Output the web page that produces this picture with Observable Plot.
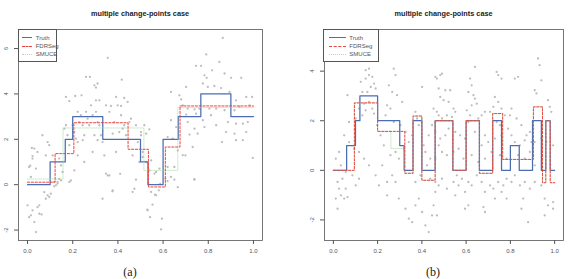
<!DOCTYPE html>
<html><head><meta charset="utf-8">
<script src="https://cdn.jsdelivr.net/npm/d3@7"></script>
<script src="https://cdn.jsdelivr.net/npm/@observablehq/plot@0.6"></script>
<style>
body{margin:0;background:#fff;}
#wrap{position:relative;width:570px;height:279px;font-family:"Liberation Sans",Arial,sans-serif;overflow:hidden;}
.title{font-weight:bold;font-size:7.3px;color:#222;text-align:center;line-height:1;}
.cap{font-family:"Liberation Serif","DejaVu Serif",serif;font-size:12px;color:#222;line-height:12px;height:12px;}
.lgbox{position:absolute;background:#fff;border:0.8px solid #555;box-sizing:border-box;}
.lgtext{position:absolute;font-size:6px;color:#555;line-height:1;white-space:nowrap;}
.lgline{position:absolute;height:0;}
</style></head><body>
<div id="wrap"></div>
<script>
const titleText = "multiple change-points case";
const legendLabels = ["Truth", "FDRSeg", "SMUCE"];
const captions = ["(a)", "(b)"];
const xTicks = [0, 0.2, 0.4, 0.6, 0.8, 1.0];
const yTicksA = [-2, 0, 2, 4, 6];
const yTicksB = [-2, 0, 2, 4];

// panel (a) step functions: breakpoints and segment values
const truthAx = [0, 0.1, 0.167, 0.2, 0.333, 0.5, 0.533, 0.6, 0.667, 0.767, 0.9, 1];
const truthAy = [0, 1, 2, 3, 2, 1, 0, 2, 3, 4, 3];
const fdrAx = [0, 0.122, 0.205, 0.445, 0.535, 0.61, 0.675, 1];
const fdrAy = [0.11, 1.37, 2.73, 1.56, -0.1, 1.66, 3.47];
const smuceAx = [0, 0.157, 0.515, 0.665, 1];
const smuceAy = [0.25, 2.5, 0.63, 3.4];

// panel (b) step functions
const truthBx = [0, 0.06, 0.1, 0.12, 0.2, 0.3, 0.32, 0.36, 0.4, 0.46, 0.54, 0.6, 0.66, 0.72, 0.76, 0.8, 0.84, 0.9, 0.94, 0.96, 0.98, 1];
const truthBy = [0, 1, 2, 3, 2, 1, 0, 2, 0, 2, 0, 2, 0, 2, 0, 1, 0, 2, 0, 2, 0];
const fdrBx = [0, 0.095, 0.2, 0.323, 0.36, 0.4, 0.46, 0.54, 0.6, 0.66, 0.72, 0.765, 0.904, 0.945, 0.96, 0.98, 1];
const fdrBy = [0, 2.72, 1.57, -0.12, 2.19, -0.4, 2, 0, 2, -0.12, 2.29, 0.44, 2.56, -0.5, 2, -0.5];
const smuceBx = [0, 0.095, 0.2, 0.26, 0.323, 0.36, 0.4, 0.46, 0.54, 0.6, 0.66, 0.72, 0.765, 0.904, 0.945, 0.96, 0.98, 1];
const smuceBy = [0, 2.72, 1.57, 0.88, -0.12, 2.19, -0.4, 2, 0, 2, -0.12, 2.29, 0.44, 2.56, -0.5, 2, -0.5];

// observations, panel (a)
const pointsA = [
[0,-0.91],[0.007,-1.43],[0.015,-1.35],[0.022,-1.13],[0.030,-1.65],[0.037,-2.09],[0.044,-0.99],[0.052,-0.91],[0.052,-1.28],[0.081,-0.62],[0.089,-0.47],[0.096,-0.54],[0.103,-0.40],
[0.007,0.78],[0.022,1.15],[0.030,1.59],[0.044,1.44],[0.037,0.71],[0.015,0.34],[0.066,2.18],[0.089,1.88],[0.096,1.74],[0.081,1.29],[0.111,1.29],[0.118,0.12],[0.126,-0.03],[0.133,0.12],[0.140,0.26],[0.140,1.15],[0.148,0.85],[0.155,0.56],[0.163,2.47],[0.170,2.62],[0.177,2.18],[0.185,1.74],[0.199,2.62],[0.207,2.32],[0.214,2.03],[0.222,1.88],[0.207,0.63],[0.170,3.87],[0.185,3.68],[0.211,3.91],[0.222,3.21],[0.229,2.76],[0.236,3.06],[0.239,3.94],[0.244,2.62],[0.251,2.18],[0.251,1.00],[0.259,4.75],[0.276,4.75],[0.259,3.21],[0.266,2.91],[0.273,2.62],[0.281,3.50],[0.288,3.06],[0.296,4.38],[0.303,4.28],[0.310,4.46],[0.303,3.72],[0.318,3.72],[0.303,3.21],[0.310,2.76],[0.318,2.62],[0.325,2.18],[0.332,1.88],[0.340,1.29],[0.347,3.50],[0.355,5.59],[0.362,3.21],[0.369,3.47],[0.377,2.25],[0.384,2.76],[0.392,3.87],[0.392,1.44],[0.399,3.50],[0.406,2.32],[0.414,3.47],[0.414,3.06],[0.417,4.63],[0.421,2.47],[0.428,3.82],[0.428,2.62],[0.436,2.18],[0.443,3.65],[0.451,2.76],[0.458,2.91],[0.465,1.29],[0.465,-0.32],[0.473,-0.18],[0.480,2.62],[0.488,1.88],[0.495,1.00],[0.502,2.18],[0.510,1.44],[0.517,2.62],[0.362,0.41],[0.347,0.49],[0.377,-0.25],[0.332,-0.62],[0.288,1.44],[0.296,2.18],[0.310,1.96],[0.244,1.96],[0.222,1.29],[0.185,0.12],
[0.864,6.47],[0.791,5.74],[0.746,5.24],[0.768,5.24],[0.817,5.04],[0.849,5.41],[0.783,4.82],[0.793,4.71],[0.872,4.90],[0.901,4.71],[0.946,4.71],[0.702,4.31],[0.776,4.46],[0.798,4.31],[0.827,4.35],[0.857,4.26],[0.635,4.09],[0.672,3.94],[0.680,3.76],[0.894,4.09],[0.923,3.72],[0.968,3.87],[0.994,3.87],[0.687,3.50],[0.709,3.35],[0.739,3.32],[0.761,3.35],[0.805,3.35],[0.835,3.35],[0.872,3.28],[0.916,3.28],[0.938,3.43],[0.983,3.50],[0.702,3.09],[0.746,3.13],[0.812,3.06],[0.709,2.76],[0.776,2.84],[0.835,2.62],[0.887,2.76],[0.923,2.69],[0.953,2.69],[0.975,2.76],[0.739,2.47],[0.783,2.54],[0.879,2.32],[0.968,2.32],[0.717,2.21],[0.753,2.25],[0.916,2.25],[0.620,2.10],[0.643,2.03],[0.861,1.88],[0.923,1.96],[0.953,1.96],[0.731,1.66],[0.665,1.51],[0.997,1.18],[0.699,1.29],[0.739,0.24],[0.539,0.63],[0.569,0.56],[0.584,0.71],[0.562,0.49],[0.547,-0.32],[0.532,-1.13],[0.542,-1.43],[0.595,-1.50],[0.591,-1.97],[0.569,-0.47],[0.581,-0.25],[0.587,0.04],[0.610,0.26],[0.620,0.78],[0.650,0.78],[0.525,2.25],[0.539,2.44],[0.502,2.32],[0.510,1.22],[0.547,1.07],[0.525,1.00],[0.635,2.84],[0.658,2.54],
[0.062,-1.31],[0.074,-0.33],[0.118,-0.07],[0.133,0.05],[0.148,0.19],[0.192,0.19],[0.012,0.84],[0.022,1.26],[0.019,1.62],[0.355,0.41],[0.376,-0.29],[0.41,0.48],[0.48,0.22],[0.53,-1.1],[0.553,-0.88],[0.564,-0.44],[0.62,0.16],[0.635,0.34],[0.65,0.22],[0.665,-0.11],[0.738,0.22],[0.687,1.3]
];

// observations, panel (b)
const pointsB = [
[0.176,5.34],[0.064,3.03],[0.124,3.57],[0.146,3.70],[0.161,3.84],[0.176,3.77],[0.184,3.50],[0.169,3.36],[0.191,3.30],[0.154,3.16],[0.131,3.16],[0.139,2.69],[0.161,2.76],[0.176,2.49],[0.146,2.42],[0.184,2.29],[0.116,2.49],[0.131,2.22],[0.101,2.09],[0.071,1.95],[0.161,4.10],[0.146,4.04],[0.273,4.10],[0.281,3.84],[0.251,3.43],[0.266,3.16],[0.288,3.03],[0.311,2.76],[0.243,2.62],[0.258,2.49],[0.236,2.22],[0.273,1.95],[0.303,1.82],[0.326,1.55],[0.356,1.41],[0.341,1.14],[0.318,0.87],[0.281,0.74],[0.296,0.47],[0.258,0.61],[0.228,1.01],[0.213,1.41],[0.198,1.82],[0.221,0.20],[0.266,-0.20],[0.243,-0.47],[0.281,-0.47],[0.296,-1.14],[0.243,-1.01],[0.206,-0.61],[0.191,-0.20],[0.161,0.20],[0.139,0.47],[0.116,0.74],[0.094,0.87],[0.071,1.14],[0.049,1.41],[0.026,0.74],[0.011,0.47],[0.034,0.20],[0.056,-0.07],[0.041,-0.34],[0.019,-0.47],[0.026,-0.74],[0.011,-1.14],[0.034,-1.01],[0.049,-1.14],[0.064,-1.08],[0.056,-0.74],[0.019,-1.55],[0.086,-0.20],[0.116,-0.34],[0.101,-0.61],[0.326,-1.55],[0.341,-1.95],[0.356,-2.09],[0.371,-1.41],[0.386,-1.14],[0.401,-1.68],[0.416,-2.22],[0.431,-2.49],[0.446,-1.82],[0.453,-1.41],[0.461,-0.87],[0.371,-0.47],[0.393,-0.20],[0.438,-0.34],[0.401,3.36],[0.371,2.36],[0.378,2.09],[0.386,1.82],[0.446,1.82],[0.461,1.55],[0.431,1.41],[0.408,1.01],[0.416,0.74],[0.438,0.47],[0.461,0.47],[0.423,0.20],[0.468,3.70],[0.476,2.22],[0.453,2.49],
[0.461,3.77],[0.483,3.84],[0.491,3.90],[0.640,4.17],[0.738,3.97],[0.745,3.84],[0.760,3.70],[0.835,3.77],[0.820,3.70],[0.925,4.51],[0.932,4.24],[0.940,3.63],[0.910,3.23],[0.918,3.10],[0.970,2.83],[0.978,2.56],[0.985,2.36],[0.476,3.30],[0.506,3.23],[0.528,3.23],[0.483,2.96],[0.498,2.83],[0.521,2.76],[0.543,2.49],[0.551,2.36],[0.468,2.36],[0.513,2.22],[0.536,2.15],[0.491,2.09],[0.618,3.70],[0.625,3.43],[0.610,3.16],[0.633,3.03],[0.640,2.89],[0.648,2.69],[0.625,2.62],[0.603,2.42],[0.618,2.22],[0.655,2.09],[0.670,2.22],[0.685,2.36],[0.610,1.95],[0.730,2.96],[0.745,2.76],[0.723,2.56],[0.708,2.36],[0.760,2.49],[0.775,2.22],[0.738,1.95],[0.753,1.82],[0.805,2.49],[0.798,2.22],[0.828,2.09],[0.850,1.82],[0.873,1.41],[0.888,1.55],[0.895,1.14],[0.865,1.21],[0.843,1.01],[0.820,1.14],[0.805,1.41],[0.790,1.68],[0.760,1.41],[0.730,1.28],[0.700,1.14],[0.685,1.41],[0.670,1.01],[0.640,1.55],[0.595,1.28],[0.573,1.41],[0.551,1.55],[0.521,1.68],[0.506,1.41],[0.483,1.28],[0.476,1.01],[0.491,0.74],[0.513,0.61],[0.543,0.74],[0.566,0.87],[0.588,0.47],[0.625,0.61],[0.655,0.34],[0.685,0.47],[0.715,0.74],[0.753,0.61],[0.783,0.47],[0.835,0.61],[0.865,0.47],[0.888,0.74],[0.910,1.14],[0.940,1.28],[0.963,1.14],[0.993,1.01],
[0.461,-0.47],[0.476,-0.61],[0.491,-0.34],[0.513,-0.74],[0.543,-0.47],[0.558,-0.20],[0.566,-0.61],[0.581,-0.34],[0.595,-0.87],[0.610,-0.47],[0.625,-0.61],[0.648,-0.20],[0.670,-0.47],[0.685,-0.87],[0.708,-0.61],[0.723,-0.74],[0.745,-0.47],[0.768,-0.61],[0.783,-0.34],[0.805,-0.47],[0.820,-0.20],[0.843,-0.61],[0.865,-0.47],[0.888,-0.74],[0.910,-0.47],[0.940,-0.61],[0.955,-1.14],[0.970,-1.41],[0.993,-1.28],[0.910,0.20],[0.468,-1.82],[0.551,-1.01],[0.595,-1.55],[0.610,-1.41],[0.678,-1.48],[0.685,-1.68],[0.858,-1.14],[0.850,-1.55],[0.880,-2.09],[0.955,-1.82],[0.993,-1.55],[0.730,-1.14],[0.760,-0.87],[0.783,-1.14]
];

const COL_TRUTH = "#4a6db3", COL_FDR = "#e8463e", COL_SMUCE = "#a3d9a3";
const lineStyles = [
  {stroke: COL_TRUTH, w: 1.25, dash: null, op: 1},
  {stroke: COL_FDR, w: 1, dash: "2.2,1.6", op: 1},
  {stroke: COL_SMUCE, w: 0.7, dash: "0.9,1", op: 0.85}
];

function stepTable(xs, ys) {
  return xs.map((x, i) => ({x, y: ys[Math.min(i, ys.length - 1)]}));
}

function panel(o) {
  return Plot.plot({
    width: 285, height: 262,
    marginTop: 29, marginBottom: 22, marginLeft: o.ml, marginRight: o.mr,
    x: {domain: [-0.04, 1.04]},
    y: {domain: o.yDomain},
    style: {fontFamily: "Liberation Sans, Arial, sans-serif", fontSize: "6px", background: "transparent", overflow: "visible"},
    marks: [
      Plot.dot(o.points, {x: d => d[0], y: d => d[1], r: 1.15, fill: "#bdbdbd", stroke: "none"}),
      Plot.line(stepTable(o.tx, o.ty), {x: "x", y: "y", curve: "step-after", stroke: lineStyles[0].stroke, strokeWidth: lineStyles[0].w}),
      Plot.line(stepTable(o.sx, o.sy), {x: "x", y: "y", curve: "step-after", stroke: lineStyles[2].stroke, strokeWidth: lineStyles[2].w, strokeDasharray: lineStyles[2].dash, strokeOpacity: lineStyles[2].op}),
      Plot.line(stepTable(o.fx, o.fy), {x: "x", y: "y", curve: "step-after", stroke: lineStyles[1].stroke, strokeWidth: lineStyles[1].w, strokeDasharray: lineStyles[1].dash}),
      Plot.frame({stroke: "#555", strokeWidth: 0.8}),
      Plot.axisX({ticks: xTicks, tickSize: 4, tickPadding: 4, tickFormat: d3.format(".1f"), color: "#555", fontSize: 6, label: null}),
      Plot.axisY({ticks: o.yTicks, tickSize: 4, text: null, color: "#555", label: null}),
      Plot.text(o.yTicks, {y: d => d, frameAnchor: "left", dx: -12, rotate: -90, text: d => String(d), textAnchor: "middle", fill: "#555", fontSize: 6})
    ]
  });
}

const wrap = document.getElementById("wrap");
function place(el, left, top) { el.style.position = "absolute"; el.style.left = left + "px"; el.style.top = top + "px"; wrap.appendChild(el); return el; }

const pa = panel({points: pointsA, tx: truthAx, ty: truthAy, fx: fdrAx, fy: fdrAy, sx: smuceAx, sy: smuceAy, yDomain: [-2.46, 6.84], yTicks: yTicksA, ml: 18, mr: 23});
const pb = panel({points: pointsB, tx: truthBx, ty: truthBy, fx: fdrBx, fy: fdrBy, sx: smuceBx, sy: smuceBy, yDomain: [-2.83, 5.68], yTicks: yTicksB, ml: 39, mr: 7});
place(pa, 0, 0);
place(pb, 285, 0);

function title(left, width) {
  const d = document.createElement("div");
  d.className = "title"; d.textContent = titleText; d.style.width = width + "px";
  place(d, left, 9.5);
}
title(18, 244);
title(324, 239);

// legend: box at (bx,by) size bw x bh; line sample from lx0 to lx1; text at tx (all page pixels)
function legend(bx, by, bw, bh, lx0, lx1, tx) {
  const box = document.createElement("div");
  box.className = "lgbox";
  box.style.width = bw + "px"; box.style.height = bh + "px";
  place(box, bx, by);
  legendLabels.forEach((lab, i) => {
    const y = by + 8.6 + i * 8.2;
    const st = lineStyles[i];
    const ln = document.createElement("div");
    ln.className = "lgline";
    ln.style.width = (lx1 - lx0) + "px";
    ln.style.borderTop = st.w + "px " + (st.dash ? (i === 1 ? "dashed " : "dotted ") : "solid ") + st.stroke;
    ln.style.opacity = st.op;
    place(ln, lx0, y - st.w / 2);
    const t = document.createElement("div");
    t.className = "lgtext"; t.textContent = lab;
    place(t, tx, y - 3.3);
  });
}
legend(17.7, 29.3, 39.2, 32.6, 22.3, 31.7, 35.7);
legend(323.3, 29.3, 55.9, 33, 329.2, 345.7, 349.3);

function caption(text, cx) {
  const d = document.createElement("div");
  d.className = "cap"; d.textContent = text;
  d.style.width = "40px"; d.style.textAlign = "center";
  place(d, cx - 20, 266);
}
caption(captions[0], 130);
caption(captions[1], 433);
</script>
</body></html>
